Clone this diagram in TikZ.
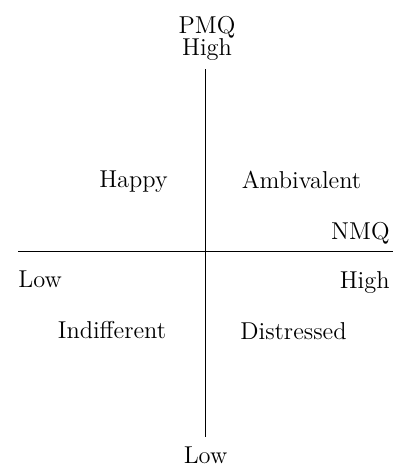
\documentclass[tikz,border=0pt]{standalone}
\usetikzlibrary{positioning}
\tikzstyle{quad_label} = [anchor=base, inner sep=0pt, font=\fontsize{12.2}{14}\selectfont]
\tikzstyle{axis_label} = [anchor=base, inner sep=0pt, font=\fontsize{12.2}{14}\selectfont]
\tikzstyle{axis_line} = [line width=0.55pt, black]

\begin{document}
\begin{tikzpicture}[x=0.5pt, y=-0.5pt]
\useasboundingbox (0,0) rectangle (393,466);
% Achsen
\coordinate (pmq_top) at (205.7,69);
\coordinate (pmq_bottom) at (205.7,437);
\coordinate (nmq_left) at (18,251.7);
\coordinate (nmq_right) at (393,251.7);
\draw [axis_line] (pmq_top) -- (pmq_bottom);
\draw [axis_line] (nmq_left) -- (nmq_right);

% Beschriftung der Achsen
\node (pmq) [axis_label] at (207,33) {PMQ};
\node (pmq_high) [axis_label] at (207,55) {High};
\node (pmq_low) [axis_label] at (205.5,463) {Low};
\node (nmq) [axis_label, anchor=base east] at (390,239) {NMQ};
\node (nmq_low) [axis_label, anchor=base west] at (18,287) {Low};
\node (nmq_high) [axis_label, anchor=base east] at (390,288) {High};

% Quadranten
\node (happy) [quad_label] at (133.5,187) {Happy};
\node (ambivalent) [quad_label] at (301.5,188) {Ambivalent};
\node (indifferent) [quad_label] at (112,338) {Indifferent};
\node (distressed) [quad_label] at (293.5,339) {Distressed};
\end{tikzpicture}
\end{document}
